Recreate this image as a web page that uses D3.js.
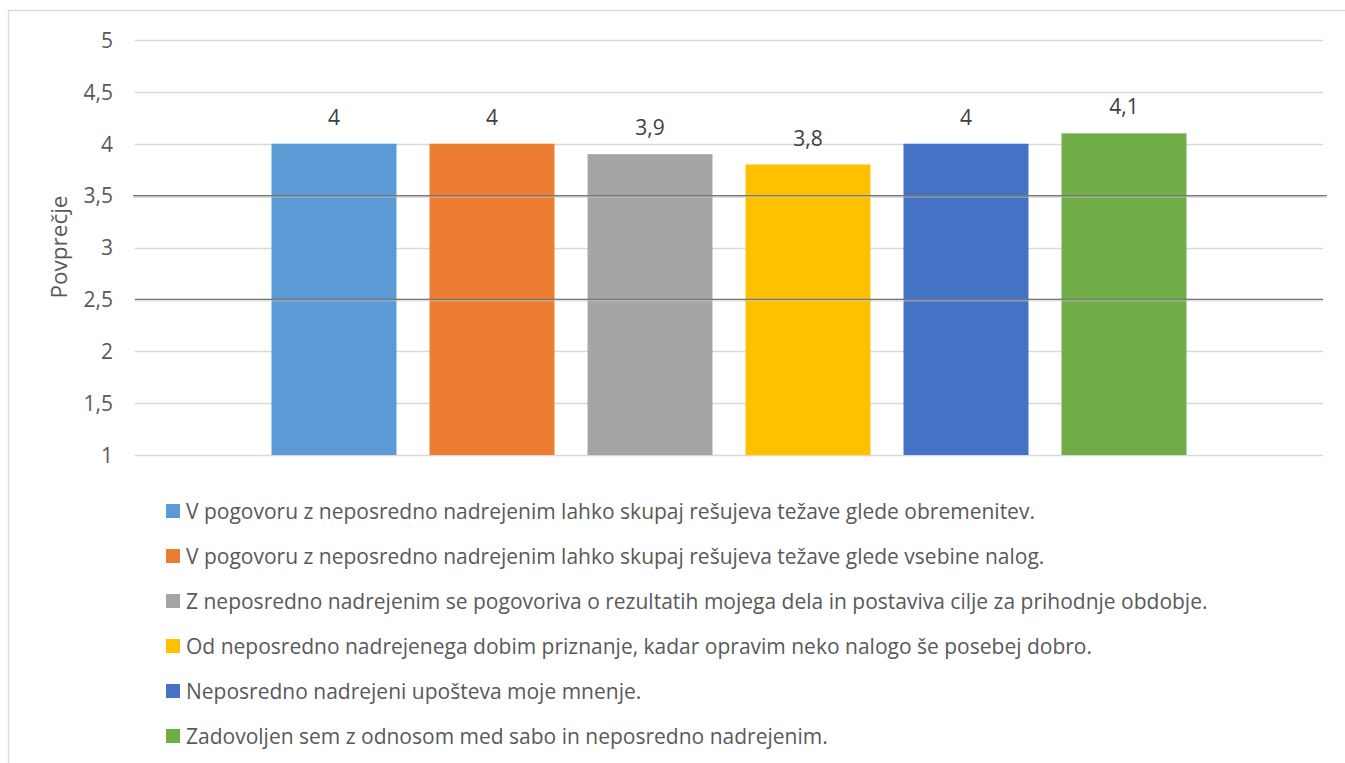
<!DOCTYPE html>
<html>
<head>
<meta charset="utf-8">
<script src="https://cdn.jsdelivr.net/npm/d3@7/dist/d3.min.js"></script>
<style>
  html, body { margin: 0; padding: 0; background: #fff; }
  svg { display: block; font-family: "Open Sans", "Noto Sans", sans-serif; }
</style>
</head>
<body>
<svg id="chart" width="1345" height="763"></svg>
<script>
// Survey statements (one bar each) and their mean scores
const statements = [
  "V pogovoru z neposredno nadrejenim lahko skupaj rešujeva težave glede obremenitev.",
  "V pogovoru z neposredno nadrejenim lahko skupaj rešujeva težave glede vsebine nalog.",
  "Z neposredno nadrejenim se pogovoriva o rezultatih mojega dela in postaviva cilje za prihodnje obdobje.",
  "Od neposredno nadrejenega dobim priznanje, kadar opravim neko nalogo še posebej dobro.",
  "Neposredno nadrejeni upošteva moje mnenje.",
  "Zadovoljen sem z odnosom med sabo in neposredno nadrejenim."
];
const means = [4, 4, 3.9, 3.8, 4, 4.1];
const colors = ["#5B9BD5", "#ED7D31", "#A5A5A5", "#FFC000", "#4472C4", "#70AD47"];
const yTicks = [1, 1.5, 2, 2.5, 3, 3.5, 4, 4.5, 5];
const refLines = [3.5, 2.5];
const yTitle = "Povprečje";

const fmt = v => String(v).replace(".", ",");

const svg = d3.select("#chart");

// outer frame
svg.append("rect")
  .attr("x", 8.5).attr("y", 10.5)
  .attr("width", 1400).attr("height", 800)
  .attr("fill", "none").attr("stroke", "#D9D9D9").attr("stroke-width", 1.3);

const plot = { left: 135, right: 1323, top: 40, bottom: 455 };

const y = d3.scaleLinear().domain([1, 5]).range([plot.bottom, plot.top]);
const x = d3.scaleBand()
  .domain(d3.range(statements.length))
  .range([plot.left, plot.right])
  .paddingInner(0.209)
  .paddingOuter(0.864);

// gridlines
svg.append("g")
  .selectAll("line")
  .data(yTicks)
  .join("line")
  .attr("x1", plot.left).attr("x2", plot.right)
  .attr("y1", d => Math.round(y(d)) + 0.5).attr("y2", d => Math.round(y(d)) + 0.5)
  .attr("stroke", "#D9D9D9").attr("stroke-width", 1.3);

// y axis labels
const yAxis = d3.axisLeft(y).tickValues(yTicks).tickFormat(fmt).tickSize(0).tickPadding(0);
const gy = svg.append("g").attr("transform", `translate(113,0)`).call(yAxis);
gy.select(".domain").remove();
gy.selectAll("text")
  .attr("fill", "#595959")
  .attr("dy", "0.35em")
  .style("font-size", "21px")
  .style("font-family", "'Open Sans', sans-serif");

// axis title
svg.append("text")
  .attr("transform", "translate(67,247) rotate(-90)")
  .attr("text-anchor", "middle")
  .attr("fill", "#595959")
  .style("font-size", "22.5px")
  .text(yTitle);

// bars
svg.append("g")
  .selectAll("rect")
  .data(means)
  .join("rect")
  .attr("x", (d, i) => x(i))
  .attr("width", x.bandwidth())
  .attr("y", d => y(d))
  .attr("height", d => y(1) - y(d))
  .attr("fill", (d, i) => colors[i]);

// value labels
svg.append("g")
  .selectAll("text")
  .data(means)
  .join("text")
  .attr("x", (d, i) => x(i) + x.bandwidth() / 2)
  .attr("y", d => y(d) - 19)
  .attr("text-anchor", "middle")
  .attr("fill", "#404040")
  .style("font-size", "21px")
  .text(fmt);

// reference lines drawn over the bars
const ref = svg.append("g");
refLines.forEach((v, i) => {
  const yy = y(v);
  const x1 = i === 0 ? 133 : plot.left;
  const x2 = i === 0 ? 1327 : plot.right;
  ref.append("line")
    .attr("x1", x1).attr("x2", x2)
    .attr("y1", yy + 1.5).attr("y2", yy + 1.5)
    .attr("stroke", "#C8C8C8").attr("stroke-width", 1).attr("opacity", 0.7);
  ref.append("line")
    .attr("x1", x1).attr("x2", x2)
    .attr("y1", yy).attr("y2", yy)
    .attr("stroke", "#777777").attr("stroke-width", 1.4);
});

// legend
const legend = svg.append("g")
  .selectAll("g")
  .data(statements)
  .join("g")
  .attr("transform", (d, i) => `translate(166,${511 + i * 45})`);
legend.append("rect")
  .attr("x", 0).attr("y", -7)
  .attr("width", 14).attr("height", 14)
  .attr("fill", (d, i) => colors[i]);
legend.append("text")
  .attr("x", 20).attr("y", 7.5)
  .attr("fill", "#595959")
  .style("font-size", "21px")
  .text(d => d);
</script>
</body>
</html>
